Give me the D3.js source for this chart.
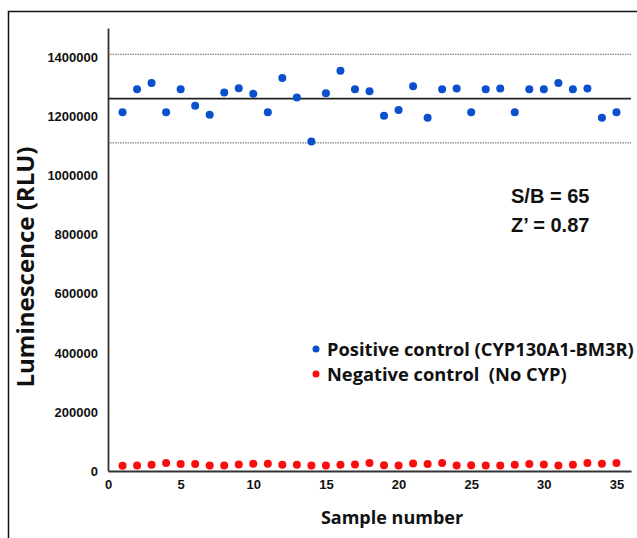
<!DOCTYPE html>
<html>
<head>
<meta charset="utf-8">
<script src="https://cdn.jsdelivr.net/npm/d3@7"></script>
<style>
  html, body { margin: 0; padding: 0; background: #fff; }
  #chart { width: 637px; height: 538px; }
</style>
</head>
<body>
<div id="chart"></div>
<script>
  'use strict';

  // Sample numbers along the x axis.
  const samples = d3.range(1, 36);

  // Positive control (CYP130A1-BM3R), RLU.
  const positive = [
    1215000, 1293000, 1314000, 1215000, 1293000, 1237000, 1206000, 1282000, 1296000, 1277000,
    1215000, 1331000, 1265000, 1116000, 1279000, 1355000, 1293000, 1286000, 1203000, 1222000,
    1303000, 1196000, 1293000, 1295000, 1215000, 1293000, 1295000, 1215000, 1293000, 1293000,
    1314000, 1293000, 1295000, 1196000, 1215000
  ];

  // Negative control (No CYP), RLU.
  const negative = [
    17500, 18700, 21000, 26800, 23300, 23300, 18700, 18700, 22200, 24500,
    24500, 21000, 21000, 18700, 18700, 21000, 22200, 26800, 19800, 18700,
    25700, 23300, 26800, 18700, 19800, 18700, 18700, 21000, 23300, 22200,
    18700, 21000, 26800, 24500, 26800
  ];

  // Mean of the positive control and the +/- 3 SD band.
  const mean_line = 1261000;
  const band_lines = [1411000, 1111000];

  const x_ticks = [0, 5, 10, 15, 20, 25, 30, 35];
  const y_ticks = [0, 200000, 400000, 600000, 800000, 1000000, 1200000, 1400000];

  const legend_labels = ['Positive control (CYP130A1-BM3R)', 'Negative control  (No CYP)'];
  const stats_labels = ['S/B = 65', 'Z\u2019 = 0.87'];

  /**
   * Layout and styles.
   */
  const width = 637;
  const height = 538;
  const blue = '#0a4fcc';
  const red = '#fa0d0d';
  const axis_color = '#333';
  const tick_font = '"Liberation Sans", Arial, sans-serif';
  const label_font = '"Open Sans", "Noto Sans", sans-serif';

  const svg = d3.select('#chart').append('svg')
    .attr('width', width)
    .attr('height', height);

  // Outer frame (only the top and left edges are inside the picture).
  svg.append('path')
    .attr('d', 'M8.5,' + height + 'V11.5H' + width)
    .attr('fill', 'none')
    .attr('stroke', '#111')
    .attr('stroke-width', 1.5);

  const x = d3.scaleLinear().domain([0, 36]).range([108, 631]);
  const y = d3.scaleLinear().domain([0, 1500000]).range([471, 28]);

  // Axes without tick marks.
  const x_axis = d3.axisBottom(x).tickValues(x_ticks).tickSize(0).tickPadding(9);
  const y_axis = d3.axisLeft(y).tickValues(y_ticks).tickSize(0).tickPadding(10)
    .tickFormat(d3.format('d'));

  const gx = svg.append('g')
    .attr('transform', 'translate(0,' + y(0) + ')')
    .call(x_axis);
  const gy = svg.append('g')
    .attr('transform', 'translate(' + x(0) + ',0)')
    .call(y_axis);

  [gx, gy].forEach(function (g) {
    g.select('.domain').attr('stroke', axis_color).attr('stroke-width', 1.8);
    g.selectAll('text')
      .attr('fill', '#111')
      .style('font-family', tick_font)
      .style('font-weight', 'bold')
      .style('font-size', '13px');
  });

  // Mean and band lines.
  svg.selectAll('line.band')
    .data(band_lines)
    .enter().append('line')
    .attr('class', 'band')
    .attr('x1', x(0) + 2)
    .attr('x2', x(36))
    .attr('y1', function (d) { return y(d); })
    .attr('y2', function (d) { return y(d); })
    .attr('stroke', '#666')
    .attr('stroke-width', 1)
    .attr('stroke-dasharray', '1.5,1');

  svg.append('line')
    .attr('x1', x(0))
    .attr('x2', x(36))
    .attr('y1', y(mean_line))
    .attr('y2', y(mean_line))
    .attr('stroke', '#222')
    .attr('stroke-width', 1.6);

  // The scatter points.
  function render_points(values, color) {
    svg.append('g').selectAll('circle')
      .data(values)
      .enter().append('circle')
      .attr('cx', function (d, i) { return x(samples[i]); })
      .attr('cy', function (d) { return y(d); })
      .attr('r', 4)
      .attr('fill', color);
  }
  render_points(positive, blue);
  render_points(negative, red);

  // Axis titles.
  svg.append('text')
    .attr('x', 392)
    .attr('y', 524)
    .attr('text-anchor', 'middle')
    .style('font-family', label_font)
    .style('font-weight', 'bold')
    .style('font-size', '18px')
    .attr('fill', '#111')
    .text('Sample number');

  svg.append('text')
    .attr('transform', 'translate(34,267) rotate(-90)')
    .attr('text-anchor', 'middle')
    .style('font-family', label_font)
    .style('font-weight', 'bold')
    .style('font-size', '24px')
    .attr('fill', '#111')
    .text('Luminescence (RLU)');

  // Legend.
  const legend = svg.append('g');
  [blue, red].forEach(function (color, i) {
    legend.append('circle')
      .attr('cx', 316)
      .attr('cy', 349 + i * 25)
      .attr('r', 3.5)
      .attr('fill', color);
    legend.append('text')
      .attr('x', 327)
      .attr('y', 356 + i * 25)
      .style('font-family', label_font)
      .style('font-weight', 'bold')
      .style('font-size', '18.3px')
      .attr('fill', '#111')
      .attr('xml:space', 'preserve')
      .style('white-space', 'pre')
      .text(legend_labels[i]);
  });

  // S/B and Z' annotation.
  stats_labels.forEach(function (t, i) {
    svg.append('text')
      .attr('x', 511)
      .attr('y', 203 + i * 29)
      .style('font-family', tick_font)
      .style('font-weight', 'bold')
      .style('font-size', '20px')
      .attr('fill', '#111')
      .text(t);
  });
</script>
</body>
</html>
